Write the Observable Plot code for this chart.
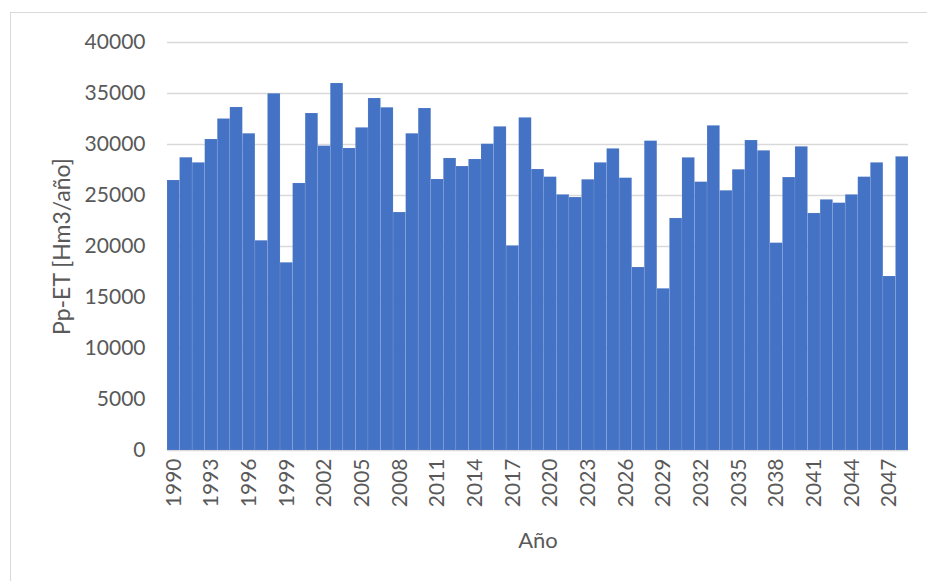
<!DOCTYPE html>
<html>
<head>
<meta charset="utf-8">
<script src="https://cdn.jsdelivr.net/npm/d3@7"></script>
<script src="https://cdn.jsdelivr.net/npm/@observablehq/plot@0.6"></script>
<style>
  html, body { margin: 0; padding: 0; background: #fff; overflow: hidden; }
  #wrap { position: relative; width: 927px; height: 581px; }
  #frame { position: absolute; left: 10px; top: 12px; width: 930px; height: 580px;
           border-left: 1px solid #d9d9d9; border-top: 1px solid #d9d9d9; }
  #chart { position: absolute; left: 0; top: 0; }
</style>
</head>
<body>
<div id="wrap"><div id="frame"></div><div id="chart"></div></div>
<script>
const years = d3.range(1990, 2049);
const values = [
  26470, 28700, 28200, 30490, 32500, 33630, 31050, 20560, 34970, 18400,
  26180, 33040, 29840, 35980, 29610, 31630, 34510, 33600, 23330, 31050,
  33530, 26570, 28630, 27840, 28530, 30030, 31730, 20060, 32610, 27550,
  26800, 25060, 24800, 26540, 28200, 29570, 26700, 17940, 30330, 15850,
  22750, 28690, 26310, 31830, 25460, 27520, 30390, 29380, 20330, 26760,
  29770, 23240, 24570, 24250, 25060, 26800, 28200, 17060, 28790
];
const yTicks = [0, 5000, 10000, 15000, 20000, 25000, 30000, 35000, 40000];
const xTicks = years.filter(y => (y - 1990) % 3 === 0);
const yTitle = "Pp-ET [Hm3/año]";
const xTitle = "Año";

const data = years.map((y, i) => ({year: y, value: values[i]}));
const font = "Lato, 'Open Sans', sans-serif";
const textColor = "#595959";

const chart = Plot.plot({
  width: 927,
  height: 581,
  marginLeft: 167,
  marginRight: 19,
  marginTop: 42,
  marginBottom: 131,
  style: {fontFamily: font, background: "transparent", overflow: "visible"},
  x: {type: "band", domain: years, paddingInner: 0, paddingOuter: 0},
  y: {domain: [0, 40000]},
  marks: [
    Plot.gridY(yTicks, {stroke: "#d9d9d9", strokeOpacity: 1, strokeWidth: 1.5}),
    Plot.barY(data, {x: "year", y: "value", fill: "#4472c4", stroke: "#ffffff", strokeOpacity: 0.12, strokeWidth: 0.75}),
    Plot.axisY({ticks: yTicks, tickFormat: d => String(d), tickSize: 0, tickPadding: 22, fontSize: 21, fill: textColor, label: null}),
    Plot.axisX({ticks: xTicks, tickFormat: d => String(d), tickSize: 0, tickRotate: -90, tickPadding: 8, fontSize: 21, fill: textColor, label: null}),
    Plot.text([yTitle], {frameAnchor: "left", text: d => d, textAnchor: "middle", rotate: -90, dx: -105, fontSize: 23, fill: textColor}),
    Plot.text([xTitle], {frameAnchor: "bottom", text: d => d, textAnchor: "middle", lineAnchor: "bottom", dy: 97, fontSize: 22, fill: textColor})
  ]
});
document.getElementById("chart").appendChild(chart);
</script>
</body>
</html>
